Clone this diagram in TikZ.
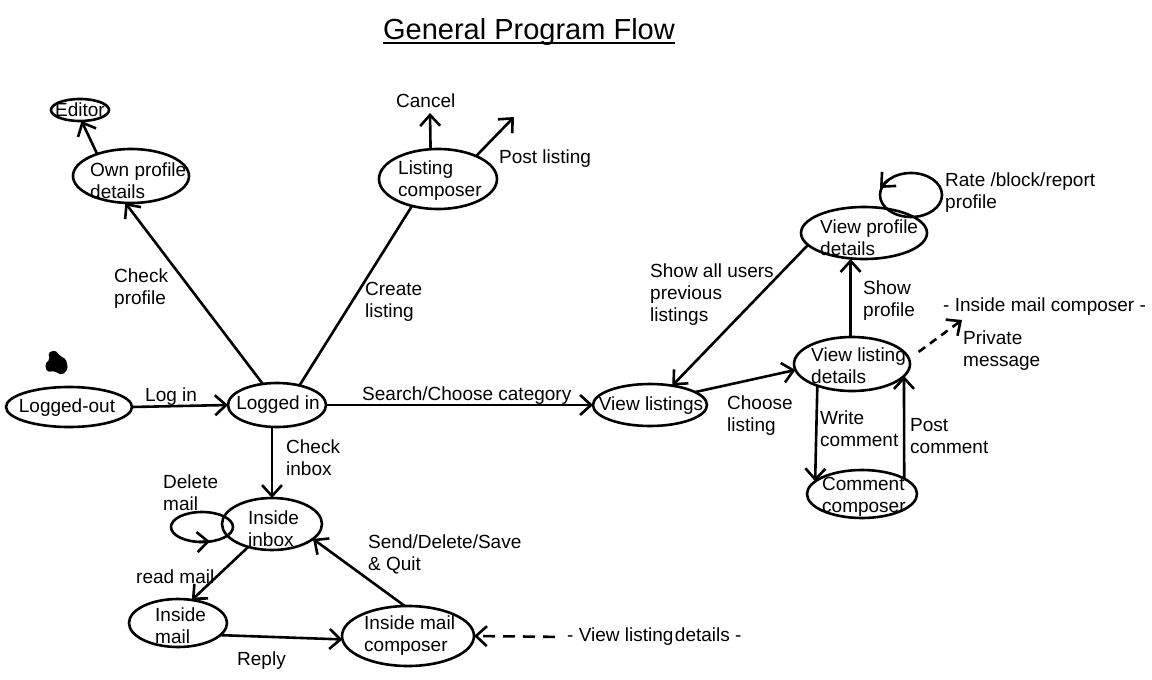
\documentclass[tikz,border=0pt]{standalone}
\usepackage{fontspec}
\setmainfont{Liberation Sans}
\usetikzlibrary{shapes.geometric,arrows.meta,calc}
\begin{document}
\begin{tikzpicture}[x=1pt,y=-1pt,
  st/.style={ellipse,draw,line width=2.6pt,inner sep=0pt,outer sep=0pt},
  txt/.style={font=\fontsize{19pt}{22pt}\selectfont,inner sep=0pt,align=left,anchor=west},
  lbl/.style={txt,yshift=-2pt},
  ctxt/.style={txt,anchor=center,align=center},
  ln/.style={line width=2.6pt},
  arr/.style={ln,-{Straight Barb[length=11pt,width=20pt]}},
  dsh/.style={arr,dash pattern=on 12pt off 8pt},
]
\fill[white] (0,0) rectangle (1152,680);
\useasboundingbox (0,0) rectangle (1152,680);

% title
\node[font=\fontsize{29pt}{34pt}\selectfont,inner sep=0pt,anchor=base] (title) at (529,39) {General Program Flow};
\draw[line width=2pt] ($(title.base west)+(0,4)$) -- ($(title.base east)+(0,4)$);

% blob
\fill[rounded corners=2pt] (47,372) -- (45,364) -- (50,359) -- (48,353) -- (55,350) -- (60,356) -- (66,359) -- (68,369) -- (62,375) -- (54,371) -- cycle;

% states
\node[st,minimum width=58pt,minimum height=22pt] (editor) at (80,110) {};
\node[ctxt] (editor-t) at (80,110) {Editor};
\node[st,minimum width=116pt,minimum height=54pt] (own) at (131,176) {};
\node[txt] (own-t) at (90,181) {Own profile\\details};
\node[st,minimum width=126pt,minimum height=40pt] (loggedout) at (69,407) {};
\node[ctxt] (loggedout-t) at (67,408) {Logged-out};
\node[st,minimum width=98pt,minimum height=44pt] (loggedin) at (277,405) {};
\node[ctxt] (loggedin-t) at (278,405) {Logged in};
\node[st,minimum width=118pt,minimum height=60pt] (listing) at (438,179) {};
\node[txt] (listing-t) at (398,181) {Listing\\composer};
\node[st,minimum width=114pt,minimum height=42pt] (vl) at (650,405) {};
\node[ctxt] (vl-t) at (651,406) {View listings};
\node[st,minimum width=116pt,minimum height=54pt] (vld) at (852,364) {};
\node[txt] (vld-t) at (811,366) {View listing\\details};
\node[st,minimum width=126pt,minimum height=52pt] (vpd) at (864,233) {};
\node[txt] (vpd-t) at (820,238) {View profile\\details};
\node[st,minimum width=110pt,minimum height=48pt] (cc) at (862,494) {};
\node[txt] (cc-t) at (822,497) {Comment\\composer};
\node[st,minimum width=100pt,minimum height=52pt] (inbox) at (272,524) {};
\node[txt] (inbox-t) at (248,529) {Inside\\inbox};
\node[st,minimum width=98pt,minimum height=48pt] (mail) at (178,623) {};
\node[txt] (mail-t) at (155,626) {Inside\\mail};
\node[st,minimum width=132pt,minimum height=60pt] (composer) at (408,636) {};
\node[txt] (composer-t) at (364,636) {Inside mail\\composer};

% free texts / labels
\node[lbl] (l-login) at (145,395) {Log in};
\node[lbl] (l-checkprofile) at (114,287) {Check\\profile};
\node[lbl] (l-create) at (365,300) {Create\\listing};
\node[lbl] (cancel) at (396,99) {Cancel};
\node[lbl] (l-post) at (499,157) {Post listing};
\node[lbl] (l-search) at (362,394) {Search/Choose category};
\node[lbl] (l-inbox) at (286,456) {Check\\inbox};
\node[lbl] (l-delete) at (163,491) {Delete\\mail};
\node[lbl] (l-read) at (136,575) {read mail};
\node[lbl] (l-reply) at (237,659) {Reply};
\node[lbl] (l-send) at (368,552) {Send/Delete/Save\\\& Quit};
\node[lbl] (vltxt) at (567,635) {- View listing\hspace{1.5pt}details -};
\node[lbl] (l-choose) at (727,414) {Choose\\listing};
\node[lbl] (l-showall) at (650,293) {Show all users\\previous\\listings};
\node[lbl] (l-showprof) at (863,299) {Show\\profile};
\node[lbl] (imctxt) at (943,305) {- Inside mail composer -};
\node[lbl] (l-private) at (963,349) {Private\\message};
\node[lbl] (l-write) at (820,427) {Write\\comment};
\node[lbl] (l-postc) at (910,434) {Post\\comment};
\node[lbl] (l-rate) at (945,191) {Rate /block/report\\profile};

% connectors
\coordinate (cancelpt) at (430,113);
\coordinate (postpt) at (514,117);
\coordinate (pmpt) at (962,320);

\draw[arr] (loggedout.east) -- (loggedin.west);
\draw[arr] (loggedin.124) -- (own.258);
\draw[arr] (own.147) -- (editor.278);
\draw[ln] (loggedin.41) -- (listing.226);
\draw[arr] (listing.104) -- (cancelpt);
\draw[arr] (listing.31) -- (postpt);
\draw[arr] (loggedin.east) -- (vl.west);
\draw[arr] (inbox.north |- loggedin.south) -- (inbox.north);
\draw[arr] (inbox.224) -- (mail.59);
\draw[arr] (mail.344) -- (composer.183);
\draw[arr] (composer.96) -- (inbox.340);
\draw[dsh,shorten <=12pt] (vltxt.west) -- (composer.east);
\draw[arr] (vl.16) -- (vld.186);
\draw[arr] (vpd.192) -- (vl.41);
\draw[arr] (vld.93) -- (vld.93 |- vpd.south);
\draw[arr,dash pattern=on 8pt off 6pt,shorten <=12pt] (vld.5) -- (pmpt);
\draw[arr] (vld.212) -- (cc.165);
\draw[arr] (cc.20) -- (vld.347);

% self loops
\draw[ln] ($(inbox)+(-70,3)$) ellipse [x radius=31pt,y radius=15pt];
\draw[arr] ($(inbox)+(-73,18)$) -- ($(inbox)+(-62,17.4)$);
\draw[ln] ($(vpd)+(47,-38)$) ellipse [x radius=31pt,y radius=22pt];
\draw[arr] ($(vpd)+(24,-53)$) -- ($(vpd)+(16,-45)$);
\end{tikzpicture}
\end{document}
